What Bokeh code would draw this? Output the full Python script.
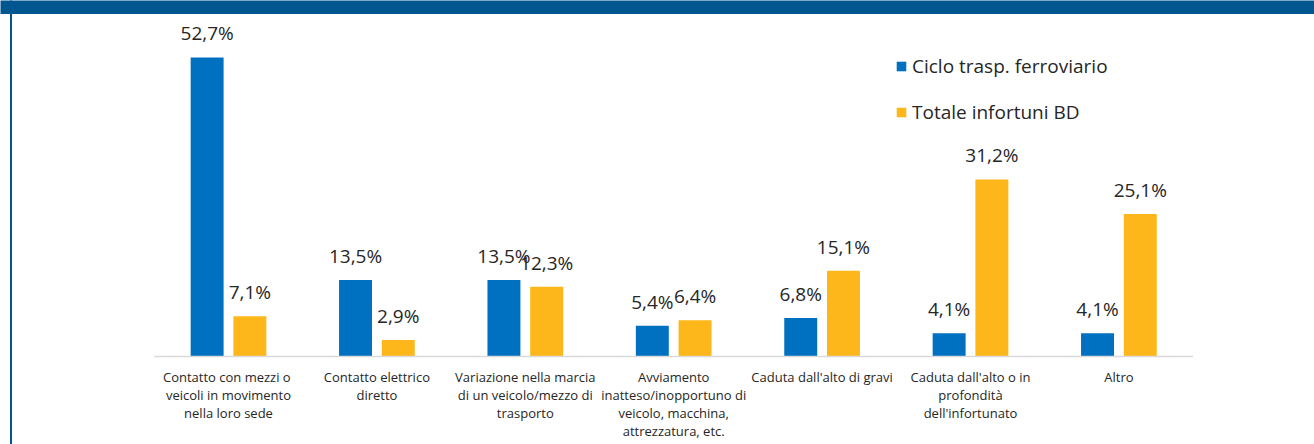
from bokeh.plotting import figure
from bokeh.models import Range1d, ColumnDataSource, BoxAnnotation
from bokeh.transform import dodge
from bokeh.core.properties import value
from bokeh.embed import file_html
from bokeh.resources import INLINE

categories = [
    "Contatto con  mezzi o\nveicoli in movimento\nnella loro sede",
    "Contatto elettrico\ndiretto",
    "Variazione nella marcia\ndi un veicolo/mezzo di\ntrasporto",
    "Avviamento\ninatteso/inopportuno di\nveicolo, macchina,\nattrezzatura, etc.",
    "Caduta dall'alto di gravi",
    "Caduta dall'alto o in\nprofondità\ndell'infortunato",
    "Altro",
]
ciclo_ferroviario = [52.7, 13.5, 13.5, 5.4, 6.8, 4.1, 4.1]
totale_bd = [7.1, 2.9, 12.3, 6.4, 15.1, 31.2, 25.1]
series_names = ["Ciclo trasp. ferroviario", "Totale infortuni BD"]

def fmt(v):
    return f"{v:.1f}".replace(".", ",") + "%"

idx = list(range(len(categories)))
src = ColumnDataSource(dict(
    idx=idx,
    cat=categories,
    a=ciclo_ferroviario,
    b=totale_bd,
    la=[fmt(v) for v in ciclo_ferroviario],
    lb=[fmt(v) for v in totale_bd],
    zero=[0] * len(idx),
))

W, H = 1314, 444
px_cat = 148.4          # pixels per category
x0_px = 228.0           # pixel centre of first category
px_unit = 5.674         # pixels per percent
base_px = 356.0         # pixel row of the baseline

xs = -x0_px / px_cat
xe = xs + W / px_cat
ye = base_px / px_unit
ys = ye - H / px_unit

p = figure(width=W, height=H, x_range=Range1d(xs, xe), y_range=Range1d(ys, ye),
           x_axis_type=None, y_axis_type=None, min_border=0,
           output_backend="svg", toolbar_location=None)
p.grid.visible = False
p.outline_line_color = None
p.background_fill_color = "white"

BLUE = "#0070C0"
ORANGE = "#FDB71A"
DARK = "#00578F"
TXT = "#262626"
FONT = value("Open Sans")

# decorations: top band and left border
p.add_layout(BoxAnnotation(bottom=ye - 13.5 / px_unit, top=ye + 1, left=xs - 1, right=xe + 1,
                           fill_color=DARK, fill_alpha=1, line_color=None, level="underlay"))
p.add_layout(BoxAnnotation(left=xs + 9.5 / px_cat, right=xs + 11.5 / px_cat, bottom=ys - 1, top=ye + 1,
                           fill_color=DARK, fill_alpha=1, line_color=None, level="underlay"))

bw = 0.222
off = 0.144
p.vbar(x=dodge("idx", -off, range=p.x_range), top="a", width=bw, source=src,
       fill_color=BLUE, line_color=None, legend_label=series_names[0])
p.vbar(x=dodge("idx", off, range=p.x_range), top="b", width=bw, source=src,
       fill_color=ORANGE, line_color=None, legend_label=series_names[1])

# baseline
p.segment(x0=[-0.5], y0=[0], x1=[len(categories) - 0.5], y1=[0], line_color="#D9D9D9", line_width=1.5)

# value labels
p.text(x=dodge("idx", -off, range=p.x_range), y="a", text="la", source=src,
       text_align="center", text_baseline="alphabetic", y_offset=-24,
       text_font=FONT, text_font_size="19px", text_color=TXT)
p.text(x=dodge("idx", off, range=p.x_range), y="b", text="lb", source=src,
       text_align="center", text_baseline="alphabetic", y_offset=-24,
       text_font=FONT, text_font_size="19px", text_color=TXT)

# category labels
p.text(x="idx", y="zero", text="cat", source=src, text_align="center", text_baseline="top",
       y_offset=11, text_font=FONT, text_font_size="13px", text_color=TXT, text_line_height=1.0)

lg = p.legend[0]
lg.location = (895, 319)
lg.orientation = "vertical"
lg.glyph_width = 12
lg.glyph_height = 12
lg.label_height = 20
lg.label_standoff = 5
lg.spacing = 20
lg.padding = 0
lg.margin = 0
lg.border_line_color = None
lg.background_fill_alpha = 0
lg.label_text_font = "Open Sans"
lg.label_text_font_size = "19px"
lg.label_text_color = TXT

open("out.html", "w").write(file_html(p, INLINE))
